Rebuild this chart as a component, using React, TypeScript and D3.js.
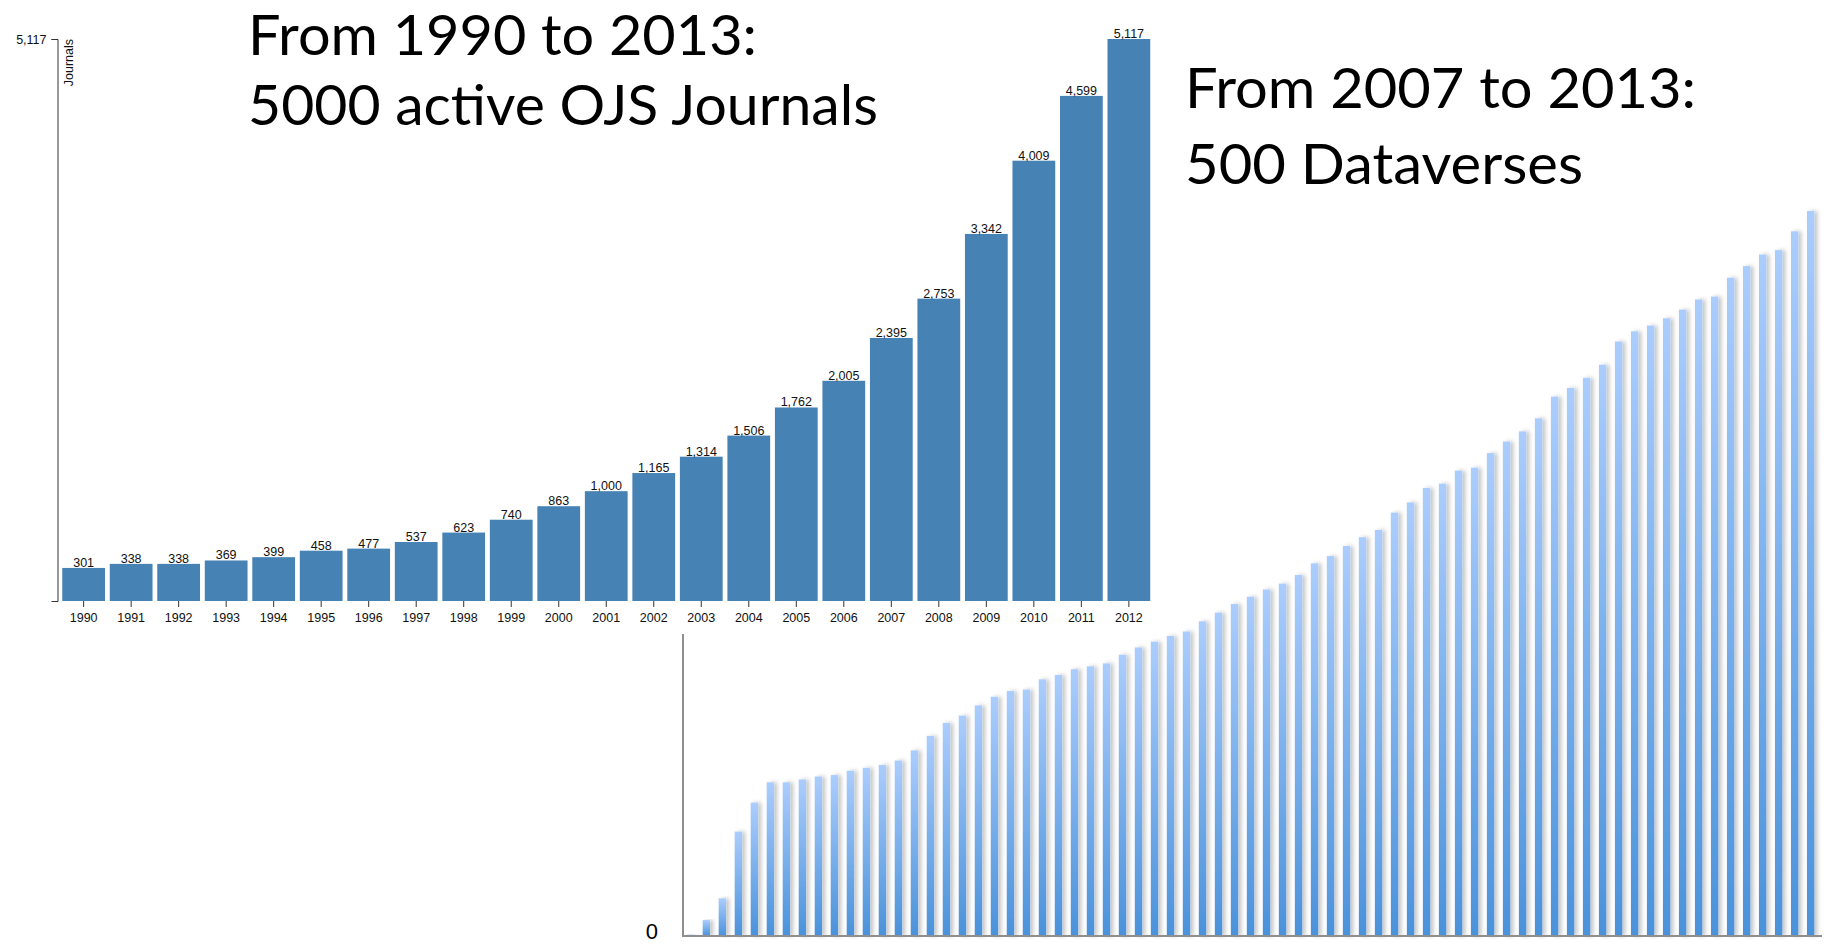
import { useRef, useEffect } from "react";
import * as d3 from "d3";

// OJS journals per year (left chart)
const years = [
  "1990", "1991", "1992", "1993", "1994", "1995", "1996", "1997",
  "1998", "1999", "2000", "2001", "2002", "2003", "2004", "2005",
  "2006", "2007", "2008", "2009", "2010", "2011", "2012",
];
const journals = [
  301, 338, 338, 369, 399, 458, 477, 537, 623, 740, 863, 1000,
  1165, 1314, 1506, 1762, 2005, 2395, 2753, 3342, 4009, 4599, 5117,
];
const journalTicks = [5117];

// Dataverses, cumulative count per period (right chart)
const dataverses = [
  1, 11, 26, 72, 92, 106, 106, 108, 110, 111, 114, 116, 118, 121, 128, 138,
  147, 152, 159, 165, 169, 170, 177, 180, 184, 186, 188, 194, 199, 203, 207,
  210, 217, 223, 229, 234, 239, 243, 249, 257, 262, 269, 275, 280, 292, 299,
  309, 312, 321, 323, 333, 341, 348, 357, 372, 378, 385, 394, 410, 417, 421,
  426, 432, 439, 441, 454, 462, 470, 473, 486, 500,
];
const dataverseTicks = [0];

const journalTitle = ["From 1990 to 2013:", "5000 active OJS Journals"];
const dataverseTitle = ["From 2007 to 2013:", "500 Dataverses"];

const App = () => {
  const svgRef = useRef(null);

  useEffect(() => {
    const svg = d3.select(svgRef.current);
    svg.selectAll("*").remove();

    const width = 1824;
    const height = 946;
    svg.attr("width", width).attr("height", height);

    const defs = svg.append("defs");
    const grad = defs
      .append("linearGradient")
      .attr("id", "dvGrad")
      .attr("x1", 0)
      .attr("y1", 0)
      .attr("x2", 0)
      .attr("y2", 1);
    grad.append("stop").attr("offset", "0%").attr("stop-color", "#abcdfd");
    grad.append("stop").attr("offset", "100%").attr("stop-color", "#4a92da");

    const shadow = defs
      .append("filter")
      .attr("id", "dvShadow")
      .attr("x", "-60%")
      .attr("y", "-5%")
      .attr("width", "260%")
      .attr("height", "110%");
    shadow
      .append("feDropShadow")
      .attr("dx", 3)
      .attr("dy", 0)
      .attr("stdDeviation", 2.2)
      .attr("flood-color", "#000")
      .attr("flood-opacity", 0.24);

    // ---- right chart: dataverses ----
    const x2 = d3
      .scaleBand()
      .domain(d3.range(dataverses.length))
      .range([683, 1818])
      .paddingInner(0.54)
      .paddingOuter(0.23);
    const y2 = d3.scaleLinear().domain([0, 500]).range([936, 211]);

    const g2 = svg.append("g");
    g2.selectAll("rect")
      .data(dataverses)
      .enter()
      .append("rect")
      .attr("x", (d, i) => x2(i))
      .attr("y", (d) => y2(d))
      .attr("width", x2.bandwidth())
      .attr("height", (d) => y2(0) - y2(d))
      .attr("fill", "url(#dvGrad)")
      .attr("filter", "url(#dvShadow)");

    g2.append("line")
      .attr("x1", 683)
      .attr("x2", 683)
      .attr("y1", 634)
      .attr("y2", 937)
      .attr("stroke", "#8f8f8f")
      .attr("stroke-width", 2);
    g2.append("line")
      .attr("x1", 682)
      .attr("x2", 1822)
      .attr("y1", y2(0))
      .attr("y2", y2(0))
      .attr("stroke", "#8f8f8f")
      .attr("stroke-width", 2);

    // tick label sits right at the bottom edge, nudged up so it stays whole
    g2.selectAll("text.tick")
      .data(dataverseTicks)
      .enter()
      .append("text")
      .attr("x", 658)
      .attr("y", (d) => y2(d) - 1)
      .attr("dy", "0.2em")
      .attr("text-anchor", "end")
      .style("font-family", "'Liberation Sans', Arial, sans-serif")
      .style("font-size", "22px")
      .text((d) => d);

    // ---- left chart: journals ----
    const x1 = d3
      .scaleBand()
      .domain(years)
      .range([57.5, 1155])
      .paddingInner(0.1)
      .paddingOuter(0.1);
    const y1 = d3.scaleLinear().domain([0, 5117]).range([601, 39]);
    const fmt = d3.format(",");
    const labelFont = "'Liberation Sans', Arial, Helvetica, sans-serif";

    const g1 = svg.append("g");

    g1.selectAll("rect")
      .data(journals)
      .enter()
      .append("rect")
      .attr("x", (d, i) => x1(years[i]))
      .attr("y", (d) => y1(d))
      .attr("width", x1.bandwidth())
      .attr("height", (d) => y1(0) - y1(d))
      .attr("fill", "#4682b4");

    g1.selectAll("text.value")
      .data(journals)
      .enter()
      .append("text")
      .attr("class", "value")
      .attr("x", (d, i) => x1(years[i]) + x1.bandwidth() / 2)
      .attr("y", (d) => y1(d) - 1)
      .attr("text-anchor", "middle")
      .style("font-family", labelFont)
      .style("font-size", "12.5px")
      .style("fill", "#111")
      .text((d) => fmt(d));

    const xAxis = g1
      .append("g")
      .attr("transform", `translate(0,${y1(0)})`)
      .call(d3.axisBottom(x1).tickSize(6).tickSizeOuter(0).tickPadding(6));
    xAxis.select(".domain").remove();
    xAxis
      .selectAll("text")
      .style("font-family", labelFont)
      .style("font-size", "12.5px")
      .style("fill", "#111");
    xAxis.selectAll("line").attr("stroke", "#333");

    const yAxis = g1
      .append("g")
      .attr("transform", "translate(57.5,0)")
      .call(
        d3
          .axisLeft(y1)
          .tickValues(journalTicks)
          .tickFormat(fmt)
          .tickSizeOuter(6)
          .tickPadding(5)
      );
    yAxis.select(".domain").attr("stroke", "#333");
    yAxis.selectAll("line").attr("stroke", "#333");
    yAxis
      .selectAll("text")
      .style("font-family", labelFont)
      .style("font-size", "12.5px")
      .style("fill", "#111");
    yAxis
      .append("text")
      .attr("transform", "rotate(-90)")
      .attr("x", -39)
      .attr("y", 7)
      .attr("dy", ".71em")
      .attr("text-anchor", "end")
      .style("font-family", labelFont)
      .style("font-size", "12.5px")
      .style("fill", "#111")
      .text("Journals");

    // ---- titles ----
    const titleFont = "Lato, 'Open Sans', sans-serif";
    const titles = [
      { text: journalTitle[0], x: 248, y: 55, w: 509 },
      { text: journalTitle[1], x: 248, y: 125, w: 630 },
      { text: dataverseTitle[0], x: 1185, y: 108, w: 511 },
      { text: dataverseTitle[1], x: 1185, y: 184, w: 398 },
    ];
    svg
      .selectAll("text.title")
      .data(titles)
      .enter()
      .append("text")
      .attr("class", "title")
      .attr("x", (d) => d.x)
      .attr("y", (d) => d.y)
      .attr("textLength", (d) => d.w)
      .attr("lengthAdjust", "spacingAndGlyphs")
      .style("font-family", titleFont)
      .style("font-size", "57px")
      .style("fill", "#000")
      .text((d) => d.text);
  }, []);

  return (
    <svg
      ref={svgRef}
      style={{ position: "absolute", left: 0, top: 0, display: "block" }}
    ></svg>
  );
};

export default App;
